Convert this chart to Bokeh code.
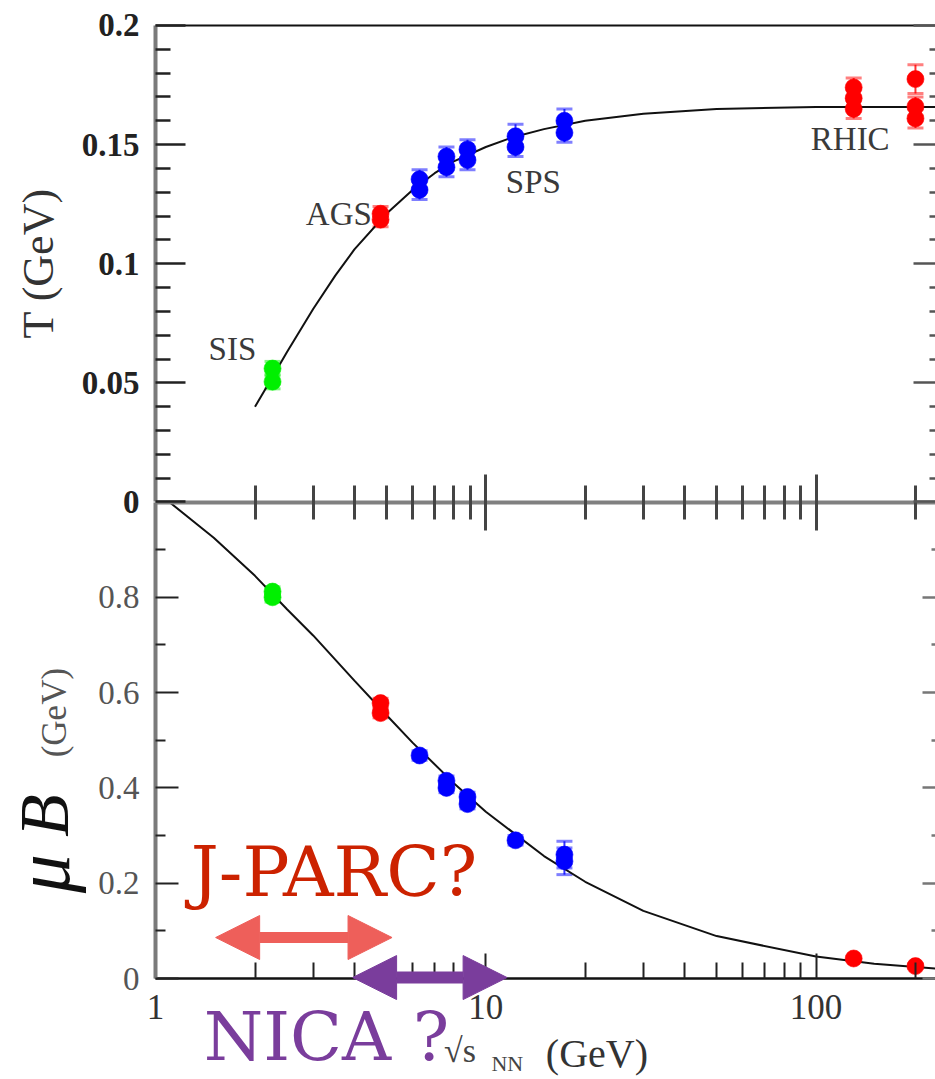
from bokeh.plotting import figure
from bokeh.models import (Range1d, LinearAxis, LogAxis, FixedTicker, Label, Arrow, NormalHead,
                          Whisker, TeeHead, ColumnDataSource)
from bokeh.embed import file_html
from bokeh.resources import INLINE

# ---------------- data ----------------
# x: sqrt(s_NN) in GeV
# upper panel: chemical freeze-out temperature T (GeV)
sis_s = [2.26, 2.26]
sis_T = [0.0560, 0.0505]
sis_T_err = [0.003, 0.003]
ags_s = [4.8, 4.8]
ags_T = [0.1185, 0.1210]
ags_T_err = [0.003, 0.003]
sps_s = [6.3, 6.3, 7.6, 7.6, 8.8, 8.8, 12.3, 12.3, 17.3, 17.3]
sps_T = [0.131, 0.1355, 0.1405, 0.145, 0.1435, 0.148, 0.149, 0.1535, 0.155, 0.160]
sps_T_err = [0.004, 0.004, 0.004, 0.004, 0.004, 0.004, 0.004, 0.005, 0.004, 0.005]
rhic_s = [130, 130, 130, 200, 200, 200]
rhic_T = [0.1650, 0.1695, 0.1740, 0.1610, 0.1660, 0.1775]
rhic_T_err = [0.004, 0.004, 0.004, 0.004, 0.004, 0.006]

# lower panel: baryon chemical potential mu_B (GeV)
sis_mu_s = [2.26, 2.26]
sis_mu = [0.800, 0.812]
sis_mu_err = [0.01, 0.01]
ags_mu_s = [4.8, 4.8]
ags_mu = [0.557, 0.578]
ags_mu_err = [0.01, 0.01]
sps_mu_s = [6.3, 7.6, 7.6, 8.8, 8.8, 12.3, 17.3, 17.3]
sps_mu = [0.468, 0.400, 0.415, 0.366, 0.381, 0.290, 0.246, 0.260]
sps_mu_err = [0.01, 0.01, 0.01, 0.01, 0.01, 0.01, 0.028, 0.028]
rhic_mu_s = [130, 200]
rhic_mu = [0.042, 0.026]
rhic_mu_err = [0.004, 0.004]

# fitted curves
curve_T_s = [2.0, 2.25, 2.5, 3.0, 3.5, 4.0, 5.0, 6.0, 7.0, 8.0, 10, 12, 15, 20, 30, 50, 100, 230]
curve_T = [0.040, 0.052, 0.063, 0.081, 0.095, 0.106, 0.121, 0.131, 0.138, 0.143, 0.149,
           0.153, 0.1565, 0.160, 0.163, 0.165, 0.1658, 0.1658]
curve_mu_s = [1.1, 1.5, 2, 2.5, 3, 4, 5, 6, 8, 10, 15, 20, 30, 50, 100, 150, 230]
curve_mu = [1.0, 0.925, 0.845, 0.775, 0.72, 0.625, 0.553, 0.495, 0.41, 0.35, 0.257, 0.203,
            0.142, 0.089, 0.046, 0.031, 0.021]

# ticks
x_major = [1, 10, 100]
x_major_labels = ["1", "10", "100"]
x_minor = [2, 3, 4, 5, 6, 7, 8, 9, 20, 30, 40, 50, 60, 70, 80, 90, 200]
T_major = [0, 0.05, 0.1, 0.15, 0.2]
T_major_labels = ["0", "0.05", "0.1", "0.15", "0.2"]
T_minor = [0.01, 0.02, 0.03, 0.04, 0.06, 0.07, 0.08, 0.09, 0.11, 0.12, 0.13, 0.14,
           0.16, 0.17, 0.18, 0.19]
mu_major = [0, 0.2, 0.4, 0.6, 0.8]
mu_major_labels = ["0", "0.2", "0.4", "0.6", "0.8"]
mu_minor = [0.1, 0.3, 0.5, 0.7, 0.9]

# facility ranges (annotations)
jparc_range = [1.52, 5.2]
nica_range = [3.95, 11.6]

SERIF = "Liberation Serif"
SLAB = "DejaVu Serif"

# panel extents in data units
X_LO, X_HI = 1, 230
MU_LO, MU_HI = 0, 1.0
T_LO, T_HI = 0, 0.2

# ---------------- figure: the frame covers the whole page, axes are placed inside ----------------
p = figure(width=935, height=1079, x_axis_type="log",
           x_range=Range1d(0.3391, 230), y_range=Range1d(-0.21196, 2.05247),
           x_axis_location=None, y_axis_location=None,
           output_backend="svg", toolbar_location=None,
           min_border_left=0, min_border_right=0, min_border_top=0, min_border_bottom=0)
p.extra_y_ranges = {"T": Range1d(-0.24239, 0.21049)}
p.xgrid.visible = False
p.ygrid.visible = False
p.outline_line_color = None
p.background_fill_color = "white"
p.border_fill_color = "white"


def style_ticks(ax, major_in, major_out, minor_in, minor_out, color="#222222", width=2):
    ax.major_tick_in = major_in
    ax.major_tick_out = major_out
    ax.minor_tick_in = minor_in
    ax.minor_tick_out = minor_out
    ax.major_tick_line_color = color
    ax.minor_tick_line_color = color
    ax.major_tick_line_width = width
    ax.minor_tick_line_width = width


# bottom x axis
xa = LogAxis(fixed_location=MU_LO, bounds=(X_LO, X_HI),
             ticker=FixedTicker(ticks=x_major, minor_ticks=x_minor))
xa.major_label_overrides = dict(zip(x_major, x_major_labels))
style_ticks(xa, 25, 0, 16, 0)
xa.axis_line_width = 2.5
xa.axis_line_color = "#111111"
xa.major_label_text_font = SERIF
xa.major_label_text_font_size = "35px"
xa.major_label_text_color = "#333333"
xa.major_label_standoff = 16
p.add_layout(xa, "below")

# left axis, lower panel (mu_B)
ya = LinearAxis(fixed_location=X_LO, bounds=(MU_LO, MU_HI),
                ticker=FixedTicker(ticks=mu_major, minor_ticks=mu_minor))
ya.major_label_overrides = dict(zip(mu_major, mu_major_labels))
style_ticks(ya, 23, 0, 10, 0)
ya.axis_line_width = 4
ya.axis_line_color = "#7a7a7a"
ya.major_label_text_font = SERIF
ya.major_label_text_font_size = "33px"
ya.major_label_text_color = "#555555"
ya.major_label_standoff = 16
p.add_layout(ya, "left")

# left axis, upper panel (T)
ta = LinearAxis(y_range_name="T", fixed_location=X_LO, bounds=(T_LO, T_HI),
                ticker=FixedTicker(ticks=T_major, minor_ticks=T_minor))
ta.major_label_overrides = dict(zip(T_major, T_major_labels))
style_ticks(ta, 30, 0, 15, 0, width=2.5)
ta.axis_line_width = 4
ta.axis_line_color = "#7a7a7a"
ta.major_label_text_font = SERIF
ta.major_label_text_font_style = "bold"
ta.major_label_text_font_size = "33px"
ta.major_label_text_color = "#222222"
ta.major_label_standoff = 16
p.add_layout(ta, "left")

# shared middle axis (x-axis of the upper panel)
ma = LogAxis(fixed_location=MU_HI, bounds=(X_LO, X_HI),
             ticker=FixedTicker(ticks=x_major[1:], minor_ticks=x_minor))
style_ticks(ma, 28, 28, 17, 17, color="#444444", width=3)
ma.axis_line_width = 4
ma.axis_line_color = "#808080"
ma.major_label_text_color = None
p.add_layout(ma, "above")

# top frame line
top = LogAxis(y_range_name="T", fixed_location=T_HI, bounds=(X_LO, X_HI),
              ticker=FixedTicker(ticks=[]))
top.axis_line_width = 2
top.axis_line_color = "#111111"
top.major_label_text_color = None
top.major_tick_line_color = None
top.minor_tick_line_color = None
p.add_layout(top, "above")

# right-side mirrored ticks (frame edge sits at the window edge)
rT = LinearAxis(y_range_name="T", fixed_location=X_HI, bounds=(T_LO, T_HI),
                ticker=FixedTicker(ticks=T_major, minor_ticks=T_minor))
rT.axis_line_color = None
rT.major_label_text_color = None
style_ticks(rT, 22, 0, 6, 0, color="#555555", width=2.5)
p.add_layout(rT, "right")

rM = LinearAxis(fixed_location=X_HI, bounds=(MU_LO, MU_HI),
                ticker=FixedTicker(ticks=mu_major, minor_ticks=mu_minor))
rM.axis_line_color = None
rM.major_label_text_color = None
style_ticks(rM, 13, 0, 4, 0, color="#777777", width=2.5)
p.add_layout(rM, "right")

# ---------------- curves ----------------
p.line(curve_T_s, curve_T, y_range_name="T", line_color="#111111", line_width=2)
p.line(curve_mu_s, curve_mu, line_color="#111111", line_width=2)

# ---------------- data points ----------------
GREEN, RED, BLUE = "#00f000", "#ff0000", "#0000ff"


def add_points(xs, vals, errs, color, rng=None):
    src = ColumnDataSource(dict(x=xs, y=vals,
                                lo=[v - e for v, e in zip(vals, errs)],
                                hi=[v + e for v, e in zip(vals, errs)]))
    kw = {} if rng is None else {"y_range_name": rng}
    p.add_layout(Whisker(source=src, base="x", lower="lo", upper="hi", dimension="height",
                         line_color=color, line_width=2, line_alpha=0.8,
                         upper_head=TeeHead(size=16, line_color=color, line_width=3, line_alpha=0.5),
                         lower_head=TeeHead(size=16, line_color=color, line_width=3, line_alpha=0.5),
                         **kw))
    p.scatter("x", "y", source=src, size=17, fill_color=color, line_color=color,
              line_alpha=0.6, **kw)


add_points(sis_s, sis_T, sis_T_err, GREEN, "T")
add_points(ags_s, ags_T, ags_T_err, RED, "T")
add_points(sps_s, sps_T, sps_T_err, BLUE, "T")
add_points(rhic_s, rhic_T, rhic_T_err, RED, "T")

add_points(sis_mu_s, sis_mu, sis_mu_err, GREEN)
add_points(ags_mu_s, ags_mu, ags_mu_err, RED)
add_points(sps_mu_s, sps_mu, sps_mu_err, BLUE)
add_points(rhic_mu_s, rhic_mu, rhic_mu_err, RED)

# ---------------- facility labels (upper panel) ----------------
for txt, xx, yy in [("SIS", 1.447, 0.0644), ("AGS", 2.85, 0.1208),
                    ("SPS", 11.5, 0.1344), ("RHIC", 96.4, 0.1524)]:
    p.add_layout(Label(x=xx, y=yy, y_range_name="T", text=txt, text_font=SERIF,
                       text_font_size="33px", text_color="#3a3a3a",
                       text_align="left", text_baseline="middle"))

# ---------------- axis titles ----------------
ROT = 1.5708
p.add_layout(Label(x=0.442, y=0.1002, y_range_name="T", text="T (GeV)", text_font=SERIF,
                   text_font_size="44px", text_color="#333333", angle=ROT,
                   text_align="center", text_baseline="middle"))
p.add_layout(Label(x=0.455, y=0.220, text="μ", text_font=SERIF, text_font_style="italic",
                   text_font_size="78px", text_color="#111111", angle=ROT,
                   text_align="center", text_baseline="middle"))
p.add_layout(Label(x=0.462, y=0.342, text="B", text_font=SERIF, text_font_style="italic",
                   text_font_size="70px", text_color="#111111", angle=ROT,
                   text_align="center", text_baseline="middle"))
p.add_layout(Label(x=0.494, y=0.558, text="(GeV)", text_font=SERIF,
                   text_font_size="35px", text_color="#555555", angle=ROT,
                   text_align="center", text_baseline="middle"))

p.add_layout(Label(x=7.47, y=-0.151, text="√s", text_font=SERIF, text_font_size="34px",
                   text_color="#444444", text_align="left", text_baseline="middle"))
p.add_layout(Label(x=10.4, y=-0.178, text="NN", text_font=SERIF, text_font_size="22px",
                   text_color="#444444", text_align="left", text_baseline="middle"))
p.add_layout(Label(x=15.2, y=-0.157, text="(GeV)", text_font=SERIF, text_font_size="40px",
                   text_color="#333333", text_align="left", text_baseline="middle"))

# ---------------- J-PARC / NICA annotations ----------------
JP_ARROW, JP_TEXT = "#ee5f5a", "#cc2200"
NICA_COL = "#7a3d9c"
p.add_layout(Arrow(x_start=jparc_range[0], x_end=jparc_range[1], y_start=0.086, y_end=0.086,
                   line_color=JP_ARROW, line_width=11,
                   start=NormalHead(size=44, fill_color=JP_ARROW, line_color=JP_ARROW),
                   end=NormalHead(size=44, fill_color=JP_ARROW, line_color=JP_ARROW)))
p.add_layout(Arrow(x_start=nica_range[0], x_end=nica_range[1], y_start=0.002, y_end=0.002,
                   line_color=NICA_COL, line_width=12,
                   start=NormalHead(size=44, fill_color=NICA_COL, line_color=NICA_COL),
                   end=NormalHead(size=44, fill_color=NICA_COL, line_color=NICA_COL)))
p.add_layout(Label(x=1.277, y=0.2225, text="J-PARC?", text_font=SLAB,
                   text_font_size="70px", text_color=JP_TEXT,
                   text_align="left", text_baseline="middle"))
p.add_layout(Label(x=1.398, y=-0.1207, text="NICA ?", text_font=SLAB,
                   text_font_size="68px", text_color=NICA_COL,
                   text_align="left", text_baseline="middle"))

open("out.html", "w").write(file_html(p, INLINE))
